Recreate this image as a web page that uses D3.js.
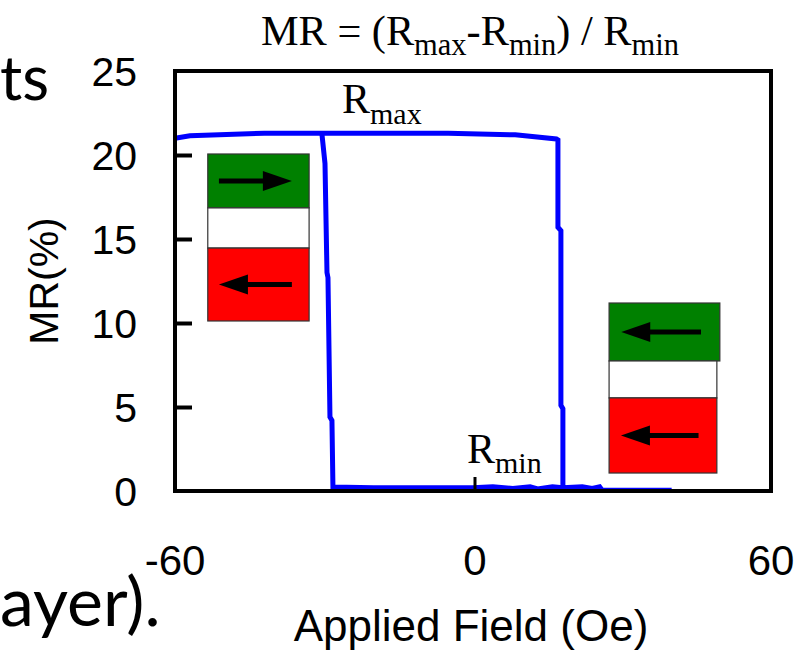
<!DOCTYPE html>
<html><head><meta charset="utf-8">
<script src="https://cdn.jsdelivr.net/npm/d3@7"></script>
<style>html,body{margin:0;padding:0;background:#fff;overflow:hidden} svg{display:block}</style>
</head><body><svg id="c" width="809" height="652"></svg>
<script>
// ---------------- data ----------------
const xTickValues = [-60, 0, 60];
const yTickValues = [0, 5, 10, 15, 20, 25];
const xTickLabels = ["-60", "0", "60"];
const yTickLabels = ["0", "5", "10", "15", "20", "25"];
// field sweep upward: high resistance until ~+17 Oe, then low
const sweepUpField = [-60, -57, -42, -5, 8.5, 16.8, 17.1, 17.1, 17.7, 17.7, 18.1, 18.1, 22, 24, 25.5, 26, 30, 40];
const sweepUpMR    = [21.0, 21.15, 21.3, 21.3, 21.2, 20.95, 20.9, 15.7, 15.5, 5.1, 4.9, 0.2, 0.25, 0.15, 0.25, 0.05, 0.05, 0.05];
// field sweep downward: low resistance until ~-28 Oe, then high
const sweepDownField = [18.1, 16, 13, 11.5, 8, 4, 0, -10, -20, -28.2, -28.4, -28.8, -29.2, -29.4, -29.8, -30.4];
const sweepDownMR    = [0.2, 0.25, 0.12, 0.25, 0.15, 0.25, 0.2, 0.2, 0.2, 0.24, 4.2, 4.4, 12.7, 13.0, 19.5, 21.2];

// ---------------- layout ----------------
const svg = d3.select("#c");
const x = d3.scaleLinear().domain([-60, 60]).range([175, 771]);
const y = d3.scaleLinear().domain([0, 25]).range([491, 71]);
const sans = "'Liberation Sans', Arial, Helvetica, sans-serif";
const serif = "'Liberation Serif', 'Times New Roman', serif";
const slide = "Lato, 'Open Sans', sans-serif";

// slide body text fragments behind the chart
svg.append("text").attr("x", 0).attr("y", 100)
  .attr("font-family", slide).attr("font-size", 62).attr("fill", "#000").text("ts");
svg.append("text").attr("x", 0).attr("y", 626)
  .attr("font-family", slide).attr("font-size", 68).attr("fill", "#000").text("ayer).");

// data lines
const line = d3.line().x(d => x(d[0])).y(d => y(d[1]));
const upPts = sweepUpField.map((f, i) => [f, sweepUpMR[i]]);
const downPts = sweepDownField.map((f, i) => [f, sweepDownMR[i]]);
[upPts, downPts].forEach(pts => {
  svg.append("path").attr("d", line(pts)).attr("fill", "none")
    .attr("stroke", "#0000ff").attr("stroke-width", 5).attr("stroke-linejoin", "miter");
});

// frame
const [x0, x1] = x.range();
const [yb, yt] = y.range();
svg.append("rect").attr("x", x0).attr("y", yt).attr("width", x1 - x0).attr("height", yb - yt)
  .attr("fill", "none").attr("stroke", "#000").attr("stroke-width", 4);

// y ticks (inward) and labels
const yAxis = d3.axisLeft(y).tickValues(yTickValues).tickSize(-17)
  .tickFormat((d, i) => yTickLabels[i]).tickPadding(38);
const gy = svg.append("g").attr("transform", `translate(${x0},0)`).call(yAxis);
gy.select(".domain").remove();
gy.selectAll(".tick line").attr("stroke", "#000").attr("stroke-width", 4)
  .filter(d => d === 0 || d === 25).remove();
gy.selectAll(".tick text").attr("font-family", sans).attr("font-size", 41)
  .attr("fill", "#000").attr("dy", "0.36em");

// x ticks and labels
const xAxis = d3.axisBottom(x).tickValues(xTickValues).tickSize(-14)
  .tickFormat((d, i) => xTickLabels[i]).tickPadding(0);
const gx = svg.append("g").attr("transform", `translate(0,${yb})`).call(xAxis);
gx.select(".domain").remove();
gx.selectAll(".tick line").attr("stroke", "#000").attr("stroke-width", 3)
  .filter(d => d !== 0).remove();
gx.selectAll(".tick").attr("transform", d => `translate(${x(d) + (d === 0 ? 2 : 0)},0)`);
gx.selectAll(".tick text").attr("font-family", sans).attr("font-size", 42)
  .attr("fill", "#000").attr("y", 84).attr("dy", 0);

// axis titles
svg.append("text").attr("x", 471).attr("y", 641).attr("text-anchor", "middle")
  .attr("font-family", sans).attr("font-size", 44).attr("fill", "#000").text("Applied Field (Oe)");
svg.append("text").attr("transform", "translate(58,281) rotate(-90)").attr("text-anchor", "middle")
  .attr("font-family", sans).attr("font-size", 41).attr("fill", "#000").text("MR(%)");

// formula labels
function subText(g, parts, xPos, yPos, big, small, shift) {
  const t = g.append("text").attr("x", xPos).attr("y", yPos)
    .attr("font-family", serif).attr("fill", "#000");
  let sub = false;
  parts.forEach(p => {
    const isSub = p[1];
    const ts = t.append("tspan").text(p[0]).attr("font-size", isSub ? small : big);
    if (isSub && !sub) ts.attr("dy", shift);
    if (!isSub && sub) ts.attr("dy", -shift);
    sub = isSub;
  });
  return t;
}
subText(svg, [["MR = (R", 0], ["max", 1], ["-R", 0], ["min", 1], [") / R", 0], ["min", 1]],
  261, 45, 43, 31, 10)
  .attr("textLength", 418).attr("lengthAdjust", "spacingAndGlyphs");
subText(svg, [["R", 0], ["max", 1]], 342, 113, 42, 30, 11);
subText(svg, [["R", 0], ["min", 1]], 467, 463, 42, 30, 10);

// magnetic-layer stacks (annotation, in data units)
const stacks = [
  { f0: -53.4, f1: -33.0, layers: [
    { top: 20.06, bot: 16.85, fill: "#008000", dir: 1 },
    { top: 16.85, bot: 14.46, fill: "#ffffff", dir: 0 },
    { top: 14.46, bot: 10.12, fill: "#ff0000", dir: -1 } ] },
  { f0: 27.4, f1: 49.1, layers: [
    { top: 11.19, bot: 7.74, fill: "#008000", dir: -1, f1: 49.7 },
    { top: 7.74, bot: 5.54, fill: "#ffffff", dir: 0 },
    { top: 5.54, bot: 1.07, fill: "#ff0000", dir: -1 } ] }
];
stacks.forEach(s => {
  s.layers.forEach(L => {
    const lx0 = x(s.f0), lx1 = x(L.f1 || s.f1);
    const ly0 = y(L.top), ly1 = y(L.bot);
    svg.append("rect").attr("x", lx0).attr("y", ly0).attr("width", lx1 - lx0).attr("height", ly1 - ly0)
      .attr("fill", L.fill).attr("stroke", "#333").attr("stroke-width", 1.2);
    if (L.dir !== 0) {
      const w = lx1 - lx0, cy = (ly0 + ly1) / 2;
      const a = lx0 + w * 0.11, b = lx0 + w * 0.83;
      const tip = L.dir > 0 ? b : a, tail = L.dir > 0 ? a : b;
      const hl = 29 * L.dir;
      svg.append("line").attr("x1", tail).attr("x2", tip - hl * 0.8).attr("y1", cy).attr("y2", cy)
        .attr("stroke", "#000").attr("stroke-width", 5);
      svg.append("path").attr("d", `M${tip},${cy} L${tip - hl},${cy - 10} L${tip - hl},${cy + 10} Z`)
        .attr("fill", "#000");
    }
  });
});
</script></body></html>
